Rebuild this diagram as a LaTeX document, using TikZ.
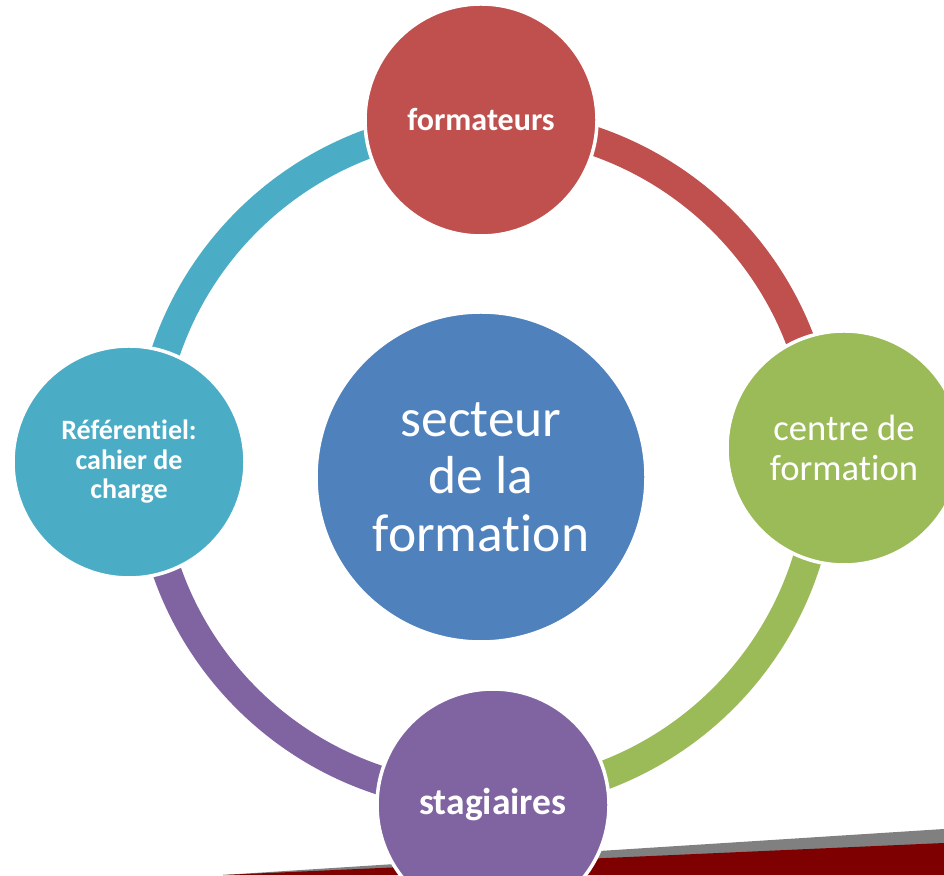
\documentclass[tikz,border=0pt]{standalone}
\usepackage{fontspec}
\setmainfont{Carlito}[Ligatures={NoCommon}]
\usetikzlibrary{calc}
\definecolor{cRed}{HTML}{C0504D}
\definecolor{cGreen}{HTML}{9BBB59}
\definecolor{cPurple}{HTML}{8064A2}
\definecolor{cCyan}{HTML}{4BACC6}
\definecolor{cBlue}{HTML}{4F81BD}
\definecolor{cBand}{HTML}{7F0000}
\definecolor{cGray}{HTML}{808080}
\tikzset{
  bubble/.style={circle, draw=white, line width=3.5pt, inner sep=0pt, text=white, align=center},
  ringarc/.style={line width=29pt},
}
\begin{document}
\begin{tikzpicture}[x=1pt,y=1pt]
\useasboundingbox (0,0) rectangle (944,875);
\clip (0,0) rectangle (944,875);
% bottom slide decoration
\fill[cGray] (223,0) -- (944,46) -- (944,0) -- cycle;
\fill[cBand] (223,0) -- (944,32) -- (944,0) -- cycle;
% ring
\coordinate (ring) at (485,415);
\draw[ringarc, cCyan]   ($(ring)+(180:337)$) arc[start angle=180, end angle=90, radius=337];
\draw[ringarc, cRed]    ($(ring)+(90:337)$)  arc[start angle=90, end angle=0, radius=337];
\draw[ringarc, cGreen]  ($(ring)+(0:337)$)   arc[start angle=0, end angle=-90, radius=337];
\draw[ringarc, cPurple] ($(ring)+(-90:337)$) arc[start angle=-90, end angle=-180, radius=337];
% nodes
\node[bubble, fill=cBlue, minimum size=330pt, font=\fontsize{53.5}{57.5}\selectfont] (nC) at (481,398) {secteur\\de la\\formation};
\node[bubble, fill=cRed, minimum size=232pt, font=\fontsize{32}{40}\selectfont\bfseries] (nT) at (481,755) {formateurs};
\node[bubble, fill=cGreen, minimum size=234pt, font=\fontsize{36.6}{40.2}\selectfont] (nR) at (844,427) {centre de\\formation};
\node[bubble, fill=cPurple, minimum size=232pt, font=\fontsize{37.5}{40}\selectfont\bfseries] (nB) at (493,70) {stagiaires};
\node[bubble, fill=cCyan, minimum size=232pt, font=\fontsize{28}{29.5}\selectfont\bfseries] (nL) at (129,413) {Référentiel:\\cahier de\\charge};
\end{tikzpicture}
\end{document}
